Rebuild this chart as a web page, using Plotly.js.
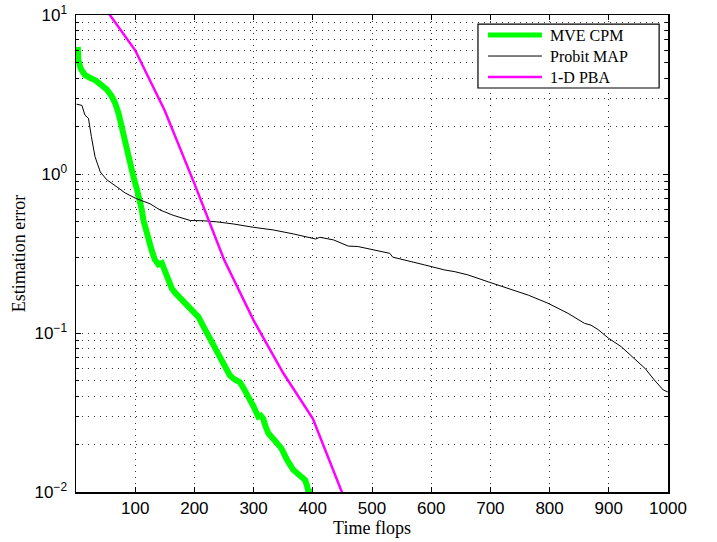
<!DOCTYPE html>
<html>
<head>
<meta charset="utf-8">
<script src="https://cdn.plot.ly/plotly-3.0.1.min.js"></script>
<style>html,body{margin:0;padding:0;background:#fff;}#chart{width:717px;height:542px;}</style>
</head>
<body>
<div id="chart"></div>
<script>
// MVE CPM (green, thick)
const mveX = [3, 4, 8, 15, 25, 32, 42, 52, 60, 66, 72, 77, 83, 88, 93, 97, 103, 108, 111, 114, 118, 122, 128, 133, 139, 145, 149, 153, 158, 162, 168, 176, 186, 198, 203, 207, 214, 221, 229, 237, 241, 246, 253, 260, 268, 277, 283, 288, 294, 300, 304, 308, 312, 316, 320, 325, 336, 347, 357, 367, 377, 387, 390, 392, 395, 398];
const mveY = [6.3, 5.2, 4.6, 4.2, 4.0, 3.9, 3.65, 3.4, 3.1, 2.8, 2.4, 1.98, 1.6, 1.28, 1.1, 0.96, 0.8, 0.69, 0.6, 0.51, 0.44, 0.38, 0.33, 0.29, 0.27, 0.275, 0.25, 0.226, 0.205, 0.19, 0.178, 0.166, 0.15, 0.133, 0.131, 0.126, 0.112, 0.1, 0.089, 0.078, 0.074, 0.068, 0.06, 0.054, 0.051, 0.049, 0.045, 0.042, 0.038, 0.0345, 0.032, 0.0298, 0.0302, 0.029, 0.026, 0.0234, 0.021, 0.0188, 0.0158, 0.0138, 0.0128, 0.0119, 0.011, 0.0102, 0.0101, 0.0099];

// Probit MAP (black, thin)
const probitX = [1, 5, 10, 15, 21, 26, 32, 41, 52, 69, 83, 102, 125, 142, 164, 193, 215, 238, 266, 300, 333, 367, 401, 405, 412, 435, 460, 476, 530, 535, 589, 623, 640, 662, 696, 730, 764, 797, 831, 859, 870, 882, 899, 921, 944, 961, 977, 992, 999, 1000];
const probitY = [2.75, 2.72, 2.7, 2.35, 2.24, 1.72, 1.29, 1.03, 0.92, 0.83, 0.76, 0.70, 0.65, 0.594, 0.55, 0.51, 0.508, 0.50, 0.485, 0.462, 0.445, 0.42, 0.39, 0.39, 0.40, 0.385, 0.352, 0.35, 0.317, 0.30, 0.268, 0.249, 0.243, 0.232, 0.21, 0.19, 0.173, 0.154, 0.133, 0.115, 0.112, 0.105, 0.093, 0.082, 0.068, 0.06, 0.0506, 0.0438, 0.0427, 0.0427];

// 1-D PBA (magenta)
const pbaX = [50, 100, 150, 200, 250, 300, 350, 400, 450];
const pbaY = [10.9, 6.0, 2.5, 0.87, 0.29, 0.12, 0.056, 0.029, 0.0098];

const seriesNames = ['MVE CPM', 'Probit MAP', '1-D PBA'];
const seriesColors = ['#00ff00', '#000000', '#ff00ff'];
const seriesWidths = [6, 1, 2.5];
const xTicks = [100, 200, 300, 400, 500, 600, 700, 800, 900, 1000];
const yTicks = [0.01, 0.1, 1, 10];
const yTickText = ['10<sup>\u22122</sup>', '10<sup>\u22121</sup>', '10<sup>0</sup>', '10<sup>1</sup>'];

const yMinor = [];
[0.01, 0.1, 1].forEach(d => { for (let k = 2; k <= 9; k++) yMinor.push(+(d * k).toPrecision(3)); });

const serif = 'Liberation Serif, Times New Roman, serif';
const sans = 'Liberation Sans, Arial, sans-serif';
const gridDash = '1px,5px';
const gridCol = '#333';

const seriesX = [mveX, probitX, pbaX];
const seriesY = [mveY, probitY, pbaY];
const traces = seriesNames.map((n, i) => ({
  x: seriesX[i], y: seriesY[i], name: n, mode: 'lines', showlegend: false,
  line: {color: seriesColors[i], width: seriesWidths[i]}
}));

// Compact legend box (MATLAB style), placed in plot-area fractions
const legBox = {x0: 0.679, x1: 0.985, y0: 0.847, y1: 0.981};
const legRows = [0.958, 0.914, 0.870];
const shapes = [{type: 'rect', xref: 'paper', yref: 'paper', x0: legBox.x0, x1: legBox.x1, y0: legBox.y0, y1: legBox.y1,
  line: {color: '#000', width: 1.2}, fillcolor: '#fff', layer: 'above'}];
const annotations = [];
seriesNames.forEach((n, i) => {
  shapes.push({type: 'line', xref: 'paper', yref: 'paper', x0: 0.696, x1: 0.787, y0: legRows[i], y1: legRows[i],
    line: {color: seriesColors[i], width: Math.min(seriesWidths[i], 5)}, layer: 'above'});
  annotations.push({xref: 'paper', yref: 'paper', x: 0.797, y: legRows[i], xanchor: 'left', yanchor: 'middle',
    text: n, showarrow: false, font: {family: serif, size: 16, color: '#000'}});
});

const layout = {
  width: 717, height: 542,
  margin: {l: 76, r: 49, t: 15, b: 50},
  paper_bgcolor: '#fff', plot_bgcolor: '#fff',
  showlegend: false,
  shapes: shapes,
  annotations: annotations,
  xaxis: {
    range: [0, 1000], tickvals: xTicks, ticktext: xTicks.map(String),
    ticks: 'inside', ticklen: 5, tickcolor: '#000',
    showline: true, linecolor: '#000', linewidth: 1.5, mirror: 'ticks',
    showgrid: true, gridcolor: gridCol, griddash: gridDash, gridwidth: 1,
    zeroline: false,
    tickfont: {family: sans, size: 17, color: '#000'},
    title: {text: 'Time flops', font: {family: serif, size: 18, color: '#000'}, standoff: 2}
  },
  yaxis: {
    type: 'log', range: [-2, 1], tickvals: yTicks, ticktext: yTickText,
    ticks: 'inside', ticklen: 5, tickcolor: '#000',
    showline: true, linecolor: '#000', linewidth: 1.5, mirror: 'ticks',
    showgrid: true, gridcolor: gridCol, griddash: gridDash, gridwidth: 1,
    zeroline: false,
    tickfont: {family: sans, size: 17, color: '#000'},
    ticklabelstandoff: 4,
    minor: {tickvals: yMinor, ticks: 'inside', ticklen: 3, tickcolor: '#000', showgrid: true, gridcolor: gridCol, griddash: gridDash, gridwidth: 1},
    title: {text: 'Estimation error', font: {family: serif, size: 18, color: '#000'}, standoff: 4}
  }
};

Plotly.newPlot('chart', traces, layout, {displayModeBar: false, staticPlot: true});
</script>
</body>
</html>
